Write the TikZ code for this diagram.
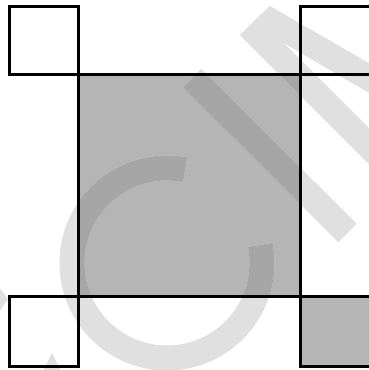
\documentclass[tikz,border=0pt]{standalone}
\begin{document}
\begin{tikzpicture}[x=1pt,y=-1pt,
  frame/.style={line width=3pt, line join=miter},
  halftone/.style={fill=black!29},
  wmlight/.style={black!12},
  wmdark/.style={black!35}]
\useasboundingbox (0,0) rectangle (369,370);
\clip (0,0) rectangle (369,370);
\fill[white] (0,0) rectangle (369,370);
% shaded fields
\fill[halftone] (78.5,74.5) rectangle (300.5,296);
\fill[halftone] (300.5,296) rectangle (372,366);
% watermark shapes
\newcommand\wmshapes[1]{%
  \draw[#1, line width=25pt] (167,263) ++(-79:95) arc[start angle=-79, end angle=-371, radius=95];
  \draw[#1, line width=26pt] (192,78) -- (347.5,233);
  \fill[#1] (240,35) -- (258,17) -- (400,159) -- (400,195) -- cycle;
  \fill[#1] (258,17) -- (270,6) -- (400,81) -- (400,111) -- (282,42) -- cycle;
  \fill[#1] (43,371) -- (52,353) -- (61,371) -- cycle;
  \fill[#1] (-1,287) -- (8,299) -- (-1,312) -- cycle;
}
\wmshapes{wmlight}
\begin{scope}
  \clip (78.5,74.5) rectangle (300.5,296) (300.5,296) rectangle (372,366);
  \wmshapes{wmdark}
\end{scope}
% outlines
\draw[frame] (9,6) rectangle (78.5,74.5);
\draw[frame] (300.5,6) rectangle (372,74.5);
\draw[frame] (9,296) rectangle (78.5,366);
\draw[frame] (300.5,296) rectangle (372,366);
\draw[frame] (78.5,74.5) rectangle (300.5,296);
\end{tikzpicture}
\end{document}
